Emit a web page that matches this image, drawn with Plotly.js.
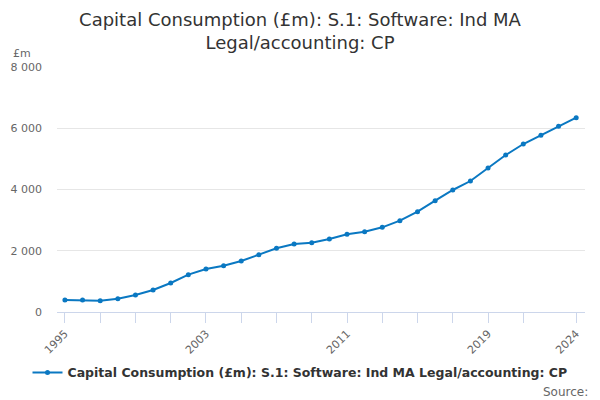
<!DOCTYPE html>
<html>
<head>
<meta charset="utf-8">
<script src="https://cdn.plot.ly/plotly-3.0.1.min.js"></script>
<style>
  html, body { margin: 0; padding: 0; background: #fff; }
  #chart { width: 600px; height: 400px; }
</style>
</head>
<body>
<div id="chart"></div>
<script>
// ----- data -----
const years = [1995, 1996, 1997, 1998, 1999, 2000, 2001, 2002, 2003, 2004,
               2005, 2006, 2007, 2008, 2009, 2010, 2011, 2012, 2013, 2014,
               2015, 2016, 2017, 2018, 2019, 2020, 2021, 2022, 2023, 2024];
const values = [392, 392, 370, 435, 555, 718, 947, 1219, 1404, 1513,
                1665, 1872, 2079, 2220, 2264, 2384, 2536, 2623, 2765, 2982,
                3276, 3635, 3984, 4277, 4702, 5126, 5485, 5768, 6062, 6345];
const seriesName = "Capital Consumption (£m): S.1: Software: Ind MA Legal/accounting: CP";
const tickYears  = [1995, 1997, 1999, 2001, 2003, 2005, 2007, 2009, 2011, 2013,
                    2015, 2017, 2019, 2021, 2024];
const labelYears = [1995, 2003, 2011, 2019, 2024];

const FONT = "DejaVu Sans, sans-serif";
const BLUE = "#0a78c2";
const AXIS = "#ccd6eb";

const trace = {
  type: "scatter",
  mode: "lines+markers",
  name: seriesName,
  x: years,
  y: values,
  line: { color: BLUE, width: 2 },
  marker: { color: BLUE, size: 5 }
};

const layout = {
  width: 600, height: 400,
  font: { family: FONT, color: "#333" },
  separators: ". ",
  title: {
    text: "Capital Consumption (£m): S.1: Software: Ind MA<br>Legal/accounting: CP",
    font: { size: 18, color: "#333" },
    x: 0.5, xanchor: "center", y: 0.935, yanchor: "top"
  },
  margin: { l: 57, r: 15, t: 67, b: 88 },
  xaxis: {
    range: [1994.55, 2024.5],
    tickvals: tickYears,
    ticktext: tickYears.map(y => labelYears.includes(y) ? String(y) : ""),
    tickangle: -45,
    ticks: "outside", ticklen: 10, tickcolor: AXIS, tickwidth: 1,
    showline: true, linecolor: AXIS, linewidth: 1,
    showgrid: false, zeroline: false,
    tickfont: { size: 11, color: "#666" }
  },
  yaxis: {
    range: [0, 8000],
    tickvals: [0, 2000, 4000, 6000, 8000],
    tickformat: ",d",
    gridcolor: "#e6e6e6", gridwidth: 1,
    zeroline: false, showline: false,
    ticks: "", ticklabelstandoff: 14,
    tickfont: { size: 11, color: "#666" }
  },
  showlegend: true,
  legend: {
    orientation: "h",
    x: 0.5, xanchor: "center",
    xref: "container", yref: "container",
    y: 0.068, yanchor: "middle",
    font: { size: 12.5, color: "#333", weight: "bold" }
  },
  annotations: [
    {
      text: "£m", xref: "paper", yref: "paper",
      x: -0.087, y: 1.057, xanchor: "left", yanchor: "middle",
      showarrow: false, font: { size: 11, color: "#666" }
    },
    {
      text: "Source:", xref: "paper", yref: "paper",
      x: 1.01, y: -0.29, xanchor: "right", yanchor: "top",
      showarrow: false, font: { size: 12, color: "#666" }
    }
  ],
  plot_bgcolor: "#fff",
  paper_bgcolor: "#fff"
};

Plotly.newPlot("chart", [trace], layout, { displayModeBar: false, staticPlot: true });
</script>
</body>
</html>
